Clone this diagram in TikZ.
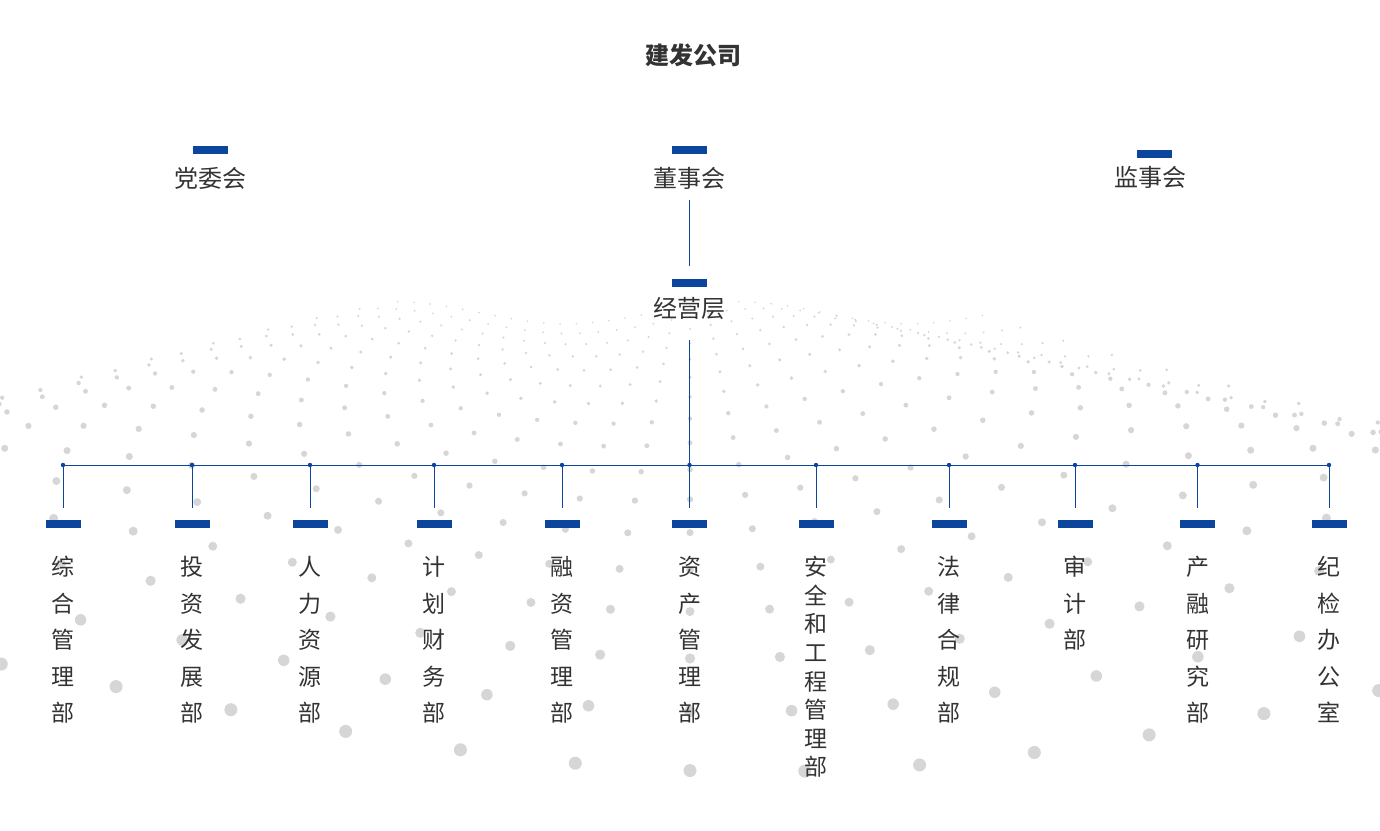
\documentclass[tikz,border=0pt]{standalone}
\usepackage{fontspec}
\setmainfont{Noto Sans CJK SC}
\usetikzlibrary{positioning}
\definecolor{orgblue}{RGB}{11,70,156}
\definecolor{orgtext}{RGB}{51,51,51}
\definecolor{dotgray}{RGB}{214,214,214}
\begin{document}
\begin{tikzpicture}[x=1pt,y=-1pt]
      \tikzset{bar/.style={rectangle, fill=orgblue, inner sep=0pt, minimum width=35pt, minimum height=8pt},
               lbl/.style={inner sep=0pt, text=orgtext, font=\fontsize{24}{28}\selectfont},
               dept/.style={inner sep=0pt, text=orgtext, align=center, font=\fontsize{23}{36.5}\selectfont},
               link/.style={draw=orgblue, line width=1pt}}
      \useasboundingbox (0,0) rectangle (1380,830);
%% Background dots
      \begin{scope}
        \clip (0,0) rectangle (1380,830);
        \foreach \k in {0,...,16}{
          \pgfmathsetmacro{\Z}{1.15*1.13^\k}
          \foreach \i in {-18,...,18}{
            \pgfmathsetmacro{\X}{0.22*\i}
            \pgfmathsetmacro{\H}{0.15*(1+cos(deg(1.35*(\X+1.9)+0.35*\Z)))}
            \pgfmathsetmacro{\sx}{690+600*\X/\Z}
            \pgfmathsetmacro{\sy}{250+600*(1-\H)/\Z}
            \pgfmathsetmacro{\r}{7.5/\Z}
            \fill[dotgray] (\sx,\sy) circle (\r);
          }
        }
      \end{scope}
%% Top
      \node[font=\fontsize{24}{28}\selectfont\bfseries, text=orgtext] (title) at (693,55) {建发公司};
      \node[bar] (b-dwh) at (210,150) {};
      \node[bar] (b-dsh) at (689.5,150) {};
      \node[bar] (b-jsh) at (1154,154) {};
      \node[bar] (b-jyc) at (689.5,283) {};
      \node[lbl, below=13pt of b-dwh] (dwh) {党委会};
      \node[lbl, below=13pt of b-dsh] (dsh) {董事会};
      \node[lbl, below=8pt of b-jsh, xshift=-4pt] (jsh) {监事会};
      \node[lbl, below=10pt of b-jyc] (jyc) {经营层};
%% Departments
      \node[bar] (b1) at (63,524) {};
      \node[bar] (b2) at (192,524) {};
      \node[bar] (b3) at (310,524) {};
      \node[bar] (b4) at (434,524) {};
      \node[bar] (b5) at (562,524) {};
      \node[bar] (b6) at (689.5,524) {};
      \node[bar] (b7) at (816,524) {};
      \node[bar] (b8) at (949,524) {};
      \node[bar] (b9) at (1075,524) {};
      \node[bar] (b10) at (1197.5,524) {};
      \node[bar] (b11) at (1329,524) {};
      \node[dept, below=28pt of b1] (d1) {综\\合\\管\\理\\部};
      \node[dept, below=28pt of b2] (d2) {投\\资\\发\\展\\部};
      \node[dept, below=28pt of b3] (d3) {人\\力\\资\\源\\部};
      \node[dept, below=28pt of b4] (d4) {计\\划\\财\\务\\部};
      \node[dept, below=28pt of b5] (d5) {融\\资\\管\\理\\部};
      \node[dept, below=28pt of b6] (d6) {资\\产\\管\\理\\部};
      \node[dept, below=28pt of b7, font=\fontsize{23}{28.6}\selectfont] (d7) {安\\全\\和\\工\\程\\管\\理\\部};
      \node[dept, below=28pt of b8] (d8) {法\\律\\合\\规\\部};
      \node[dept, below=28pt of b9] (d9) {审\\计\\部};
      \node[dept, below=28pt of b10] (d10) {产\\融\\研\\究\\部};
      \node[dept, below=28pt of b11] (d11) {纪\\检\\办\\公\\室};
%Junctions
      \coordinate (j1) at (63,465);
      \coordinate (j2) at (192,465);
      \coordinate (j3) at (310,465);
      \coordinate (j4) at (434,465);
      \coordinate (j5) at (562,465);
      \coordinate (j6) at (689.5,465);
      \coordinate (j7) at (816,465);
      \coordinate (j8) at (949,465);
      \coordinate (j9) at (1075,465);
      \coordinate (j10) at (1197.5,465);
      \coordinate (j11) at (1329,465);
%Edges
      \path[link] (dsh) edge[shorten <=10pt, shorten >=13pt] (b-jyc);
      \path[link] (jyc) edge[shorten <=20pt] (j6);
      \path[link] (j1) edge (j11);
      \path[link] (j1) edge[shorten >=12pt] (b1);
      \path[link] (j2) edge[shorten >=12pt] (b2);
      \path[link] (j3) edge[shorten >=12pt] (b3);
      \path[link] (j4) edge[shorten >=12pt] (b4);
      \path[link] (j5) edge[shorten >=12pt] (b5);
      \path[link] (j6) edge[shorten >=12pt] (b6);
      \path[link] (j7) edge[shorten >=12pt] (b7);
      \path[link] (j8) edge[shorten >=12pt] (b8);
      \path[link] (j9) edge[shorten >=12pt] (b9);
      \path[link] (j10) edge[shorten >=12pt] (b10);
      \path[link] (j11) edge[shorten >=12pt] (b11);
      \foreach \j in {j1,j2,j3,j4,j5,j6,j7,j8,j9,j10,j11}
        \fill[orgblue] (\j) circle (2.2pt);
\end{tikzpicture}
\end{document}
